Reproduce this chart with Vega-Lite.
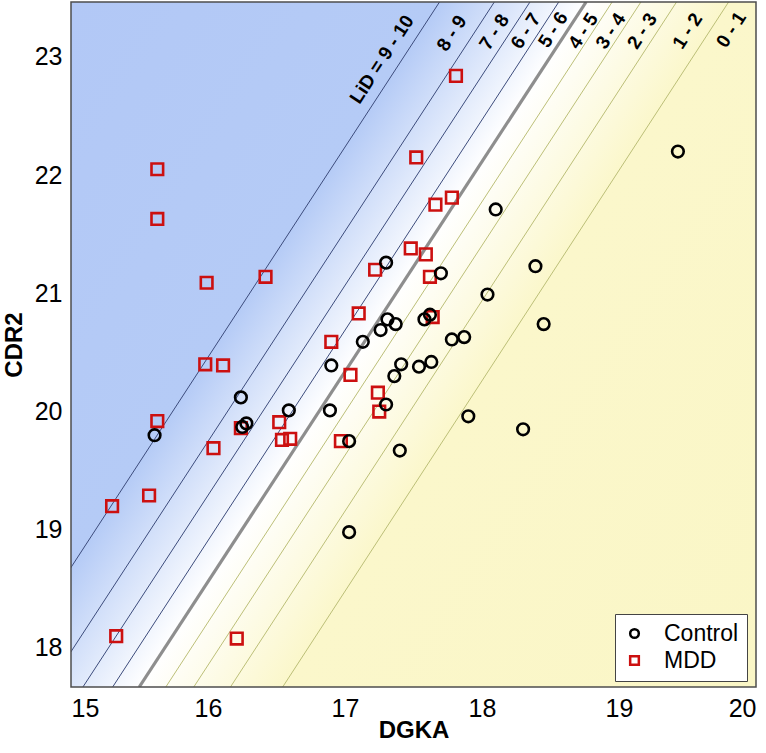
{
  "$schema": "https://vega.github.io/schema/vega-lite/v6.json",
  "description": "CDR2 vs DGKA expression with LiD contour bands, Control vs MDD.",
  "width": 685,
  "height": 685,
  "autosize": {"type": "none"},
  "padding": {"left": 71, "top": 2, "right": 10, "bottom": 66},
  "layer": [
    {
      "data": {"values": [{}]},
      "mark": {
        "type": "rect",
        "color": {
          "gradient": "linear",
          "x1": 0, "y1": 0, "x2": 1.159, "y2": 0.756,
          "stops": [
            {"offset": 0, "color": "#b2c8f6"},
            {"offset": 0.326, "color": "#b5cbf6"},
            {"offset": 0.456, "color": "#ffffff"},
            {"offset": 0.582, "color": "#fbf7cb"},
            {"offset": 1, "color": "#faf6c6"}
          ]
        }
      },
      "encoding": {
        "x": {
          "datum": 15, "type": "quantitative",
          "scale": {"domain": [15, 20], "nice": false, "zero": false},
          "axis": {
            "title": "DGKA", "format": "d",
            "values": [15, 16, 17, 18, 19, 20],
            "grid": false, "ticks": false, "domain": false,
            "labelFontSize": 25, "labelPadding": 9,
            "titleFontSize": 24, "titleFontWeight": "bold", "titlePadding": -3
          }
        },
        "x2": {"datum": 20},
        "y": {
          "datum": 17.67, "type": "quantitative",
          "scale": {"domain": [17.67, 23.465], "nice": false, "zero": false},
          "axis": {
            "title": "CDR2", "format": "d",
            "values": [18, 19, 20, 21, 22, 23],
            "grid": false, "ticks": false, "domain": false,
            "labelFontSize": 25, "labelPadding": 9,
            "titleFontSize": 24, "titleFontWeight": "bold", "titlePadding": 8
          }
        },
        "y2": {"datum": 23.465}
      }
    },
    {
      "data": {
        "values": [
          {"lid": 9, "kind": "blue", "xb": 14.431, "yb": 17.67, "xt": 17.69, "yt": 23.465},
          {"lid": 8, "kind": "blue", "xb": 14.832, "yb": 17.67, "xt": 18.09, "yt": 23.465},
          {"lid": 7, "kind": "blue", "xb": 15.087, "yb": 17.67, "xt": 18.35, "yt": 23.465},
          {"lid": 6, "kind": "blue", "xb": 15.304, "yb": 17.67, "xt": 18.56, "yt": 23.465},
          {"lid": 5, "kind": "gray", "xb": 15.498, "yb": 17.67, "xt": 18.76, "yt": 23.465},
          {"lid": 4, "kind": "yellow", "xb": 15.692, "yb": 17.67, "xt": 18.95, "yt": 23.465},
          {"lid": 3, "kind": "yellow", "xb": 15.896, "yb": 17.67, "xt": 19.16, "yt": 23.465},
          {"lid": 2, "kind": "yellow", "xb": 16.164, "yb": 17.67, "xt": 19.42, "yt": 23.465},
          {"lid": 1, "kind": "yellow", "xb": 16.545, "yb": 17.67, "xt": 19.80, "yt": 23.465}
        ]
      },
      "mark": {"type": "rule", "clip": true},
      "encoding": {
        "x": {"field": "xb", "type": "quantitative"},
        "x2": {"field": "xt"},
        "y": {"field": "yb", "type": "quantitative"},
        "y2": {"field": "yt"},
        "stroke": {
          "field": "kind", "type": "nominal", "legend": null,
          "scale": {"domain": ["blue", "gray", "yellow"], "range": ["#3d4c7c", "#8e8e8e", "#bcbf78"]}
        },
        "strokeWidth": {
          "condition": {"test": "datum.kind === 'gray'", "value": 3.2},
          "value": 1
        }
      }
    },
    {
      "data": {
        "values": [
          {"label": "LiD = 9 - 10", "x": 17.27, "y": 22.98},
          {"label": "8 - 9", "x": 17.78, "y": 23.20},
          {"label": "7 - 8", "x": 18.09, "y": 23.21},
          {"label": "6 - 7", "x": 18.32, "y": 23.22},
          {"label": "5 - 6", "x": 18.52, "y": 23.23},
          {"label": "4 - 5", "x": 18.74, "y": 23.22},
          {"label": "3 - 4", "x": 18.94, "y": 23.22},
          {"label": "2 - 3", "x": 19.17, "y": 23.22},
          {"label": "1 - 2", "x": 19.50, "y": 23.22},
          {"label": "0 - 1", "x": 19.82, "y": 23.23}
        ]
      },
      "mark": {
        "type": "text", "angle": -57, "align": "center", "baseline": "middle",
        "fontSize": 19, "fontWeight": "bold", "color": "#000000"
      },
      "encoding": {
        "x": {"field": "x", "type": "quantitative"},
        "y": {"field": "y", "type": "quantitative"},
        "text": {"field": "label"}
      }
    },
    {
      "data": {
        "values": [
          {"group": "MDD", "DGKA": 17.81, "CDR2": 22.84},
          {"group": "MDD", "DGKA": 17.52, "CDR2": 22.15},
          {"group": "MDD", "DGKA": 17.78, "CDR2": 21.81},
          {"group": "MDD", "DGKA": 17.66, "CDR2": 21.75},
          {"group": "MDD", "DGKA": 15.63, "CDR2": 22.05},
          {"group": "MDD", "DGKA": 15.63, "CDR2": 21.63},
          {"group": "MDD", "DGKA": 15.99, "CDR2": 21.09},
          {"group": "MDD", "DGKA": 16.42, "CDR2": 21.14},
          {"group": "MDD", "DGKA": 17.48, "CDR2": 21.38},
          {"group": "MDD", "DGKA": 17.59, "CDR2": 21.33},
          {"group": "MDD", "DGKA": 17.62, "CDR2": 21.14},
          {"group": "MDD", "DGKA": 17.22, "CDR2": 21.20},
          {"group": "MDD", "DGKA": 17.10, "CDR2": 20.83},
          {"group": "MDD", "DGKA": 17.64, "CDR2": 20.80},
          {"group": "MDD", "DGKA": 16.90, "CDR2": 20.59},
          {"group": "MDD", "DGKA": 17.04, "CDR2": 20.31},
          {"group": "MDD", "DGKA": 15.98, "CDR2": 20.40},
          {"group": "MDD", "DGKA": 16.11, "CDR2": 20.39},
          {"group": "MDD", "DGKA": 17.24, "CDR2": 20.16},
          {"group": "MDD", "DGKA": 17.25, "CDR2": 20.00},
          {"group": "MDD", "DGKA": 16.97, "CDR2": 19.75},
          {"group": "MDD", "DGKA": 16.24, "CDR2": 19.86},
          {"group": "MDD", "DGKA": 16.04, "CDR2": 19.69},
          {"group": "MDD", "DGKA": 16.52, "CDR2": 19.91},
          {"group": "MDD", "DGKA": 16.54, "CDR2": 19.76},
          {"group": "MDD", "DGKA": 16.60, "CDR2": 19.77},
          {"group": "MDD", "DGKA": 15.63, "CDR2": 19.92},
          {"group": "MDD", "DGKA": 15.57, "CDR2": 19.29},
          {"group": "MDD", "DGKA": 15.30, "CDR2": 19.20},
          {"group": "MDD", "DGKA": 15.33, "CDR2": 18.10},
          {"group": "MDD", "DGKA": 16.21, "CDR2": 18.08},
          {"group": "Control", "DGKA": 19.43, "CDR2": 22.20},
          {"group": "Control", "DGKA": 18.10, "CDR2": 21.71},
          {"group": "Control", "DGKA": 18.39, "CDR2": 21.23},
          {"group": "Control", "DGKA": 18.04, "CDR2": 20.99},
          {"group": "Control", "DGKA": 18.45, "CDR2": 20.74},
          {"group": "Control", "DGKA": 17.70, "CDR2": 21.17},
          {"group": "Control", "DGKA": 17.30, "CDR2": 21.26},
          {"group": "Control", "DGKA": 17.31, "CDR2": 20.78},
          {"group": "Control", "DGKA": 17.37, "CDR2": 20.74},
          {"group": "Control", "DGKA": 17.26, "CDR2": 20.69},
          {"group": "Control", "DGKA": 17.58, "CDR2": 20.78},
          {"group": "Control", "DGKA": 17.62, "CDR2": 20.82},
          {"group": "Control", "DGKA": 17.13, "CDR2": 20.59},
          {"group": "Control", "DGKA": 17.78, "CDR2": 20.61},
          {"group": "Control", "DGKA": 17.87, "CDR2": 20.63},
          {"group": "Control", "DGKA": 16.90, "CDR2": 20.39},
          {"group": "Control", "DGKA": 17.41, "CDR2": 20.40},
          {"group": "Control", "DGKA": 17.36, "CDR2": 20.30},
          {"group": "Control", "DGKA": 17.54, "CDR2": 20.38},
          {"group": "Control", "DGKA": 17.63, "CDR2": 20.42},
          {"group": "Control", "DGKA": 17.30, "CDR2": 20.06},
          {"group": "Control", "DGKA": 16.89, "CDR2": 20.01},
          {"group": "Control", "DGKA": 16.59, "CDR2": 20.01},
          {"group": "Control", "DGKA": 17.90, "CDR2": 19.96},
          {"group": "Control", "DGKA": 18.30, "CDR2": 19.85},
          {"group": "Control", "DGKA": 17.03, "CDR2": 19.75},
          {"group": "Control", "DGKA": 17.40, "CDR2": 19.67},
          {"group": "Control", "DGKA": 17.03, "CDR2": 18.98},
          {"group": "Control", "DGKA": 16.24, "CDR2": 20.12},
          {"group": "Control", "DGKA": 16.25, "CDR2": 19.87},
          {"group": "Control", "DGKA": 16.28, "CDR2": 19.90},
          {"group": "Control", "DGKA": 15.61, "CDR2": 19.80}
        ]
      },
      "mark": {"type": "point", "filled": false, "size": 135, "strokeWidth": 2.6, "opacity": 1},
      "encoding": {
        "x": {"field": "DGKA", "type": "quantitative"},
        "y": {"field": "CDR2", "type": "quantitative"},
        "color": {
          "field": "group", "type": "nominal",
          "scale": {"domain": ["Control", "MDD"], "range": ["#000000", "#cc1010"]},
          "legend": {
            "title": null, "orient": "none", "legendX": 544, "legendY": 612,
            "fillColor": "#ffffff", "strokeColor": "#444444", "padding": 8,
            "labelFontSize": 23, "labelOffset": 18, "rowPadding": 3,
            "symbolSize": 75, "symbolStrokeWidth": 2.5
          }
        },
        "shape": {
          "field": "group", "type": "nominal",
          "scale": {"domain": ["Control", "MDD"], "range": ["circle", "square"]}
        }
      }
    },
    {
      "data": {"values": [{}]},
      "mark": {"type": "rect", "filled": false, "stroke": "#4d4d4d", "strokeWidth": 1.5},
      "encoding": {
        "x": {"datum": 15, "type": "quantitative"},
        "x2": {"datum": 20},
        "y": {"datum": 17.67, "type": "quantitative"},
        "y2": {"datum": 23.465}
      }
    }
  ],
  "config": {
    "view": {"stroke": null},
    "font": "Liberation Sans",
    "axis": {"labelColor": "#000000", "titleColor": "#000000", "labelFont": "Liberation Sans", "titleFont": "Liberation Sans"},
    "legend": {"labelFont": "Liberation Sans", "labelColor": "#000000"}
  }
}
